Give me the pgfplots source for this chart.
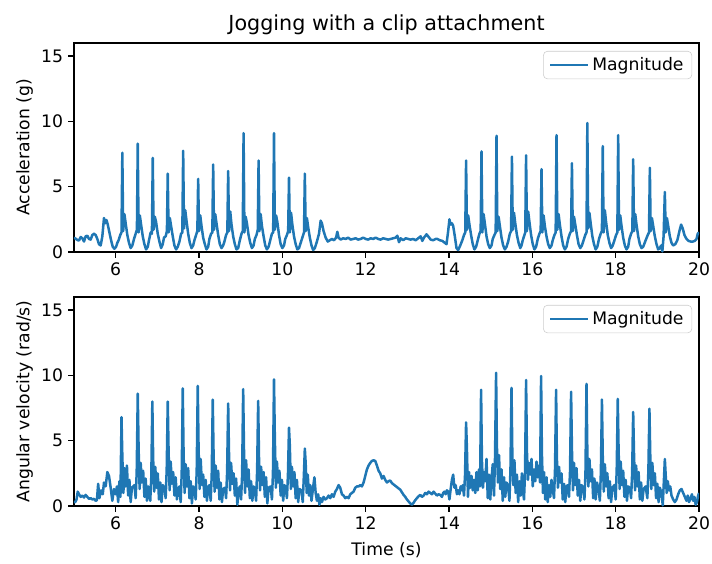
\documentclass[border=0pt]{standalone}
\usepackage{pgfplots}
\pgfplotsset{compat=1.18}
\usepackage{fontspec}
\setmainfont{DejaVu Sans}

\definecolor{mplblue}{HTML}{1F77B4}

\pgfplotsset{
  imu/.style={
    scale only axis, width=450pt, height=150.48pt,
    xmin=5, xmax=20, ymin=0, ymax=16,
    xtick={6,8,...,20}, ytick={0,5,10,15},
    tick align=outside, tick pos=left,
    major tick length=4.3pt,
    /pgf/number format/assume math mode=true,
    tick label style={font=\fontsize{12.4}{14.9}\selectfont},
    label style={font=\fontsize{12.4}{14.9}\selectfont},
    axis line style={line width=1pt},
    every tick/.style={black, line width=1pt},
    ylabel style={at={(axis description cs:-0.079,0.5)}, anchor=center},
    legend style={at={(0.989,0.962)}, anchor=north east, draw=black!20,
      rounded corners=3pt, font=\fontsize{12.4}{14.9}\selectfont,
      inner xsep=4pt, inner ysep=2.5pt,
      /tikz/every even column/.append style={column sep=7pt}},
    legend cell align=left,
    legend image code/.code={\draw[#1] (0pt,0pt) -- (27.4pt,0pt);},
    every axis title shift=0pt,
  },
  sig/.style={mplblue, line width=1.8pt, line join=round},
}

\begin{document}
\begin{tikzpicture}
\useasboundingbox (-53.28pt,-223.92pt) rectangle (459.36pt,181.44pt);

% Accelerometer magnitude
\begin{axis}[imu, at={(0,0)}, anchor=south west,
  ylabel={Acceleration (g)},
  title={Jogging with a clip attachment},
  title style={at={(axis description cs:0.5,1.062)}, anchor=base, font=\fontsize{14.9}{17.9}\selectfont}]
\addplot[sig] coordinates {
(5.00,1.10) (5.04,1.02) (5.08,0.92) (5.12,0.88) (5.16,1.15) (5.20,1.05) (5.24,0.80) (5.28,1.20)
(5.32,1.25) (5.36,1.00) (5.40,0.95) (5.44,1.30) (5.48,1.40) (5.52,1.30) (5.56,1.00) (5.60,0.60)
(5.64,0.50) (5.68,1.20) (5.72,2.60) (5.75,2.20) (5.78,2.45) (5.81,2.10) (5.85,1.50) (5.89,0.90)
(5.93,0.40) (5.97,0.25) (6.01,0.40) (6.04,0.70)
(6.07,0.9) (6.11,1.3) (6.14,1.5) (6.16,7.6) (6.18,1.6) (6.21,2.9) (6.24,2.2) (6.28,1.3) (6.32,0.7) (6.36,0.3) (6.40,0.5)
(6.44,1.0) (6.48,1.4) (6.51,1.7) (6.53,8.3) (6.55,1.5) (6.58,2.8) (6.61,2.1) (6.65,1.2) (6.69,0.6) (6.73,0.2) (6.77,0.4)
(6.80,0.9) (6.84,1.5) (6.87,1.4) (6.89,7.2) (6.91,1.7) (6.94,2.7) (6.97,2.3) (7.01,1.4) (7.05,0.8) (7.09,0.3) (7.13,0.6)
(7.16,1.1) (7.20,1.2) (7.23,1.6) (7.25,6.0) (7.27,1.5) (7.30,2.6) (7.33,2.0) (7.37,1.2) (7.41,0.5) (7.45,0.2) (7.49,0.4)
(7.53,0.8) (7.57,1.4) (7.60,1.5) (7.62,7.75) (7.64,1.8) (7.67,3.2) (7.70,2.4) (7.74,1.4) (7.78,0.7) (7.82,0.3) (7.86,0.5)
(7.89,0.9) (7.93,1.3) (7.96,1.6) (7.98,5.6) (8.00,1.6) (8.03,2.8) (8.06,2.0) (8.10,1.1) (8.14,0.6) (8.18,0.2) (8.22,0.4)
(8.25,1.0) (8.29,1.4) (8.32,1.5) (8.34,6.7) (8.36,1.7) (8.39,2.9) (8.42,2.2) (8.46,1.3) (8.50,0.6) (8.54,0.3) (8.58,0.5)
(8.61,0.8) (8.65,1.3) (8.68,1.5) (8.70,6.2) (8.72,1.6) (8.75,3.1) (8.78,2.1) (8.82,1.2) (8.86,0.6) (8.90,0.2) (8.94,0.3)
(8.98,0.9) (9.02,1.4) (9.05,1.6) (9.07,9.1) (9.09,1.5) (9.12,2.7) (9.15,2.2) (9.19,1.3) (9.23,0.7) (9.27,0.3) (9.31,0.5)
(9.34,1.0) (9.38,1.3) (9.41,1.7) (9.43,7.0) (9.45,1.6) (9.48,2.9) (9.51,2.0) (9.55,1.2) (9.59,0.5) (9.63,0.2) (9.67,0.4)
(9.71,0.9) (9.75,1.4) (9.78,1.5) (9.80,9.1) (9.82,1.7) (9.85,2.8) (9.88,2.3) (9.92,1.3) (9.96,0.6) (10.00,0.3) (10.04,0.5)
(10.07,1.0) (10.11,1.3) (10.14,1.6) (10.16,5.7) (10.18,1.5) (10.21,3.0) (10.24,2.1) (10.28,1.2) (10.32,0.6) (10.36,0.2) (10.40,0.3)
(10.45,0.8) (10.49,1.2) (10.52,1.5) (10.54,6.0) (10.56,1.6) (10.59,2.6) (10.62,1.9) (10.66,1.1) (10.70,0.5) (10.74,0.15) (10.78,0.3)
(10.83,0.8) (10.88,1.4) (10.92,2.4) (10.95,2.2) (10.99,1.6) (11.04,1.1) (11.09,0.8) (11.14,0.9) (11.19,1.0) (11.24,0.9)
(11.29,1.1) (11.32,1.55) (11.35,1.1) (11.40,0.95) (11.46,1.05) (11.52,1.0) (11.58,1.1) (11.64,0.95) (11.70,1.0) (11.76,1.05)
(11.82,0.95) (11.88,1.0) (11.94,1.1) (12.00,1.0) (12.06,0.95) (12.12,1.05) (12.18,1.0) (12.24,1.1) (12.30,1.0) (12.36,0.95)
(12.42,1.05) (12.48,1.0) (12.54,0.95) (12.60,1.0) (12.66,1.05) (12.72,1.1) (12.76,1.25) (12.80,0.75) (12.84,1.05) (12.90,0.9)
(12.96,1.05) (13.02,1.0) (13.08,0.95) (13.14,1.0) (13.20,0.9) (13.26,1.05) (13.32,1.2) (13.36,0.85) (13.40,1.1) (13.46,1.35)
(13.50,1.2) (13.56,0.95) (13.62,0.9) (13.68,1.0) (13.72,1.0) (13.78,0.9) (13.84,0.85) (13.90,0.7) (13.94,0.6) (13.98,1.6)
(14.01,2.5) (14.04,2.1) (14.07,2.2) (14.10,2.0) (14.14,1.2) (14.18,0.3) (14.22,0.15) (14.27,0.5)
(14.32,0.9) (14.36,1.3) (14.39,1.5) (14.41,7.0) (14.43,1.7) (14.46,2.8) (14.49,2.1) (14.53,1.3) (14.57,0.6) (14.61,0.2) (14.65,0.4)
(14.69,0.9) (14.73,1.4) (14.76,1.6) (14.78,7.7) (14.80,1.5) (14.83,2.9) (14.86,2.2) (14.90,1.2) (14.94,0.6) (14.98,0.3) (15.02,0.5)
(15.05,1.0) (15.09,1.3) (15.12,1.5) (15.14,8.9) (15.16,1.6) (15.19,2.7) (15.22,2.0) (15.26,1.1) (15.30,0.5) (15.34,0.2) (15.38,0.4)
(15.42,0.8) (15.46,1.4) (15.49,1.6) (15.51,7.3) (15.53,1.7) (15.56,3.0) (15.59,2.2) (15.63,1.3) (15.67,0.7) (15.71,0.3) (15.74,0.5)
(15.77,0.9) (15.81,1.3) (15.83,1.5) (15.85,7.4) (15.87,1.6) (15.90,3.1) (15.93,2.3) (15.97,1.3) (16.01,0.6) (16.05,0.2) (16.09,0.4)
(16.13,1.0) (16.17,1.4) (16.20,1.6) (16.22,6.35) (16.24,1.5) (16.27,2.8) (16.30,2.0) (16.34,1.2) (16.38,0.6) (16.42,0.3) (16.46,0.5)
(16.49,0.9) (16.53,1.3) (16.56,1.5) (16.58,8.95) (16.60,1.7) (16.63,2.9) (16.66,2.1) (16.70,1.2) (16.74,0.5) (16.78,0.2) (16.82,0.4)
(16.86,1.0) (16.90,1.4) (16.93,1.6) (16.95,6.8) (16.97,1.6) (17.00,2.7) (17.03,2.1) (17.07,1.3) (17.11,0.6) (17.15,0.3) (17.19,0.5)
(17.23,0.9) (17.27,1.3) (17.30,1.5) (17.32,9.87) (17.34,1.8) (17.37,3.0) (17.40,2.2) (17.44,1.2) (17.48,0.6) (17.52,0.2) (17.56,0.4)
(17.60,1.0) (17.64,1.4) (17.67,1.6) (17.69,8.1) (17.71,1.5) (17.74,3.2) (17.77,2.3) (17.81,1.3) (17.85,0.7) (17.89,0.3) (17.93,0.5)
(17.97,0.9) (18.01,1.3) (18.04,1.5) (18.06,8.95) (18.08,1.7) (18.11,2.8) (18.14,2.0) (18.18,1.1) (18.22,0.5) (18.26,0.2) (18.30,0.4)
(18.33,1.0) (18.37,1.4) (18.40,1.6) (18.42,7.1) (18.44,1.6) (18.47,2.9) (18.50,2.1) (18.54,1.2) (18.58,0.6) (18.62,0.3) (18.66,0.4)
(18.72,0.9) (18.77,1.3) (18.80,1.5) (18.82,6.45) (18.84,1.6) (18.87,2.6) (18.90,2.0) (18.94,1.2) (18.98,0.6) (19.02,0.2) (19.06,0.3)
(19.09,0.5) (19.12,0.05) (19.15,1.2) (19.18,4.6) (19.20,1.5) (19.23,2.6) (19.26,2.0) (19.30,1.2) (19.34,0.7) (19.38,0.5) (19.43,0.6)
(19.48,0.9) (19.53,1.6) (19.57,2.1) (19.61,1.8) (19.65,1.3) (19.70,1.0) (19.75,0.85) (19.80,0.8) (19.85,0.8) (19.90,0.85)
(19.94,1.0) (19.97,1.4) (20.00,1.5)
};
\addlegendentry{Magnitude}
\end{axis}

% Gyroscope magnitude
\begin{axis}[imu, at={(0,-182.88pt)}, anchor=south west,
  ylabel={Angular velocity (rad/s)},
  xlabel={Time (s)},
  xlabel style={at={(axis description cs:0.5,-0.21)}, anchor=center}]
\addplot[sig] coordinates {
(5.00,0.3) (5.03,0.3) (5.06,0.5) (5.09,1.1) (5.12,0.9) (5.16,0.7) (5.20,0.8) (5.24,0.65) (5.28,0.85) (5.32,0.7)
(5.36,0.55) (5.40,0.6) (5.44,0.5) (5.48,0.55) (5.52,0.4) (5.55,0.45) (5.58,1.7) (5.61,0.6) (5.65,1.2) (5.69,0.9)
(5.72,1.8) (5.76,1.5) (5.80,2.6) (5.84,2.3) (5.88,1.4) (5.92,0.4) (5.96,1.3) (6.00,0.9) (6.03,1.5) (6.06,0.3)
(6.09,1.9) (6.115,0.7) (6.14,6.8) (6.16,3.8) (6.185,1.0) (6.21,2.9) (6.24,1.5) (6.27,3.1) (6.30,0.8) (6.33,2.0) (6.36,0.3) (6.39,1.4)
(6.45,1.6) (6.48,0.6) (6.505,2.6) (6.53,8.6) (6.55,4.5) (6.575,1.3) (6.60,3.3) (6.63,1.8) (6.66,2.7) (6.69,0.7) (6.72,2.1) (6.75,0.4) (6.78,1.5)
(6.80,1.2) (6.83,0.4) (6.855,2.2) (6.88,8.0) (6.90,3.6) (6.925,1.1) (6.95,3.0) (6.98,1.4) (7.01,2.5) (7.04,0.5) (7.07,1.8) (7.10,0.3) (7.13,1.6)
(7.17,1.4) (7.20,0.6) (7.225,2.8) (7.25,8.0) (7.27,4.2) (7.295,1.2) (7.32,3.4) (7.35,1.7) (7.38,2.6) (7.41,0.8) (7.44,2.2) (7.47,0.5) (7.50,1.3)
(7.53,1.5) (7.56,0.3) (7.585,2.5) (7.61,9.0) (7.63,4.0) (7.655,1.0) (7.68,3.2) (7.71,1.5) (7.74,2.9) (7.77,0.6) (7.80,1.9) (7.83,0.2) (7.86,1.5)
(7.89,1.3) (7.92,0.5) (7.945,2.7) (7.97,9.2) (7.99,4.4) (8.015,1.3) (8.04,3.6) (8.07,1.6) (8.10,2.4) (8.13,0.7) (8.16,2.0) (8.19,0.4) (8.22,1.4)
(8.25,1.6) (8.28,0.4) (8.305,2.3) (8.33,8.15) (8.35,3.9) (8.375,1.1) (8.40,3.1) (8.43,1.4) (8.46,2.7) (8.49,0.5) (8.52,1.8) (8.55,0.3) (8.58,1.3)
(8.62,1.4) (8.65,0.6) (8.675,2.6) (8.70,7.85) (8.72,4.1) (8.745,1.2) (8.77,3.3) (8.80,1.7) (8.83,2.5) (8.86,0.8) (8.89,2.1) (8.92,0.1) (8.95,1.2)
(8.98,1.5) (9.01,0.5) (9.035,2.4) (9.06,8.95) (9.08,4.3) (9.105,1.0) (9.13,3.5) (9.16,1.5) (9.19,2.8) (9.22,0.6) (9.25,1.9) (9.28,0.4) (9.31,1.5)
(9.34,1.3) (9.37,0.4) (9.395,2.7) (9.42,8.05) (9.44,3.7) (9.465,1.2) (9.49,3.0) (9.52,1.6) (9.55,2.6) (9.58,0.7) (9.61,2.2) (9.64,0.2) (9.67,1.4)
(9.72,1.5) (9.75,0.5) (9.775,2.5) (9.80,9.7) (9.82,5.2) (9.845,1.4) (9.87,3.4) (9.90,1.8) (9.93,2.7) (9.96,0.8) (9.99,2.0) (10.02,0.4) (10.05,1.6)
(10.08,1.4) (10.11,0.6) (10.135,2.4) (10.16,6.0) (10.18,4.6) (10.205,1.3) (10.23,3.0) (10.26,1.5) (10.29,2.6) (10.32,0.6) (10.35,2.0) (10.38,0.3) (10.41,1.3)
(10.46,1.2) (10.49,0.3) (10.515,2.2) (10.54,4.4) (10.56,3.3) (10.585,1.0) (10.61,2.4) (10.64,0.8) (10.67,1.6) (10.70,0.4) (10.73,1.2) (10.77,2.2)
(10.80,1.0) (10.83,0.4) (10.86,0.9) (10.89,0.1) (10.92,0.6) (10.95,0.3) (10.99,0.7) (11.03,0.5) (11.07,0.6) (11.11,0.8) (11.15,0.6) (11.19,0.9)
(11.23,0.7) (11.27,1.1) (11.31,1.3) (11.35,1.6) (11.39,1.4) (11.43,0.9) (11.47,0.8) (11.51,0.6) (11.55,0.7) (11.59,0.6) (11.63,0.9) (11.67,1.0)
(11.71,1.1) (11.75,1.4) (11.79,1.5) (11.83,1.5) (11.87,1.6) (11.91,1.5) (11.95,1.8) (11.99,2.3) (12.03,2.8) (12.07,3.1) (12.11,3.3) (12.15,3.45)
(12.19,3.5) (12.23,3.45) (12.27,3.1) (12.31,2.7) (12.35,2.5) (12.39,2.1) (12.43,2.3) (12.47,2.0) (12.51,1.8) (12.55,1.9) (12.59,1.95) (12.63,1.75)
(12.67,1.65) (12.71,1.55) (12.75,1.45) (12.79,1.35) (12.83,1.25) (12.87,1.05) (12.91,0.85) (12.95,0.7) (12.99,0.5) (13.03,0.35) (13.07,0.2)
(13.11,0.1) (13.15,0.25) (13.19,0.45) (13.23,0.6) (13.27,0.75) (13.31,0.85) (13.35,0.7) (13.39,0.8) (13.43,1.0) (13.47,0.9) (13.51,1.1)
(13.55,1.0) (13.59,0.9) (13.63,1.1) (13.67,0.95) (13.71,0.8) (13.75,0.9) (13.79,0.85) (13.83,0.7) (13.86,1.0) (13.89,1.1) (13.92,0.9)
(13.95,1.2) (13.98,1.1) (14.01,0.5) (14.04,1.3) (14.07,2.0) (14.10,2.4) (14.13,1.4) (14.16,1.6) (14.19,0.9) (14.22,1.2) (14.25,0.9)
(14.28,1.5) (14.31,1.2)
(14.33,1.6) (14.36,0.8) (14.385,2.4) (14.41,6.4) (14.43,4.4) (14.455,0.7) (14.48,2.6) (14.51,1.4) (14.54,2.3) (14.57,1.2) (14.60,2.0) (14.63,1.0) (14.66,2.6)
(14.69,1.2) (14.72,2.8) (14.745,1.5) (14.77,8.9) (14.79,3.5) (14.815,1.4) (14.84,2.6) (14.87,1.9) (14.90,3.6) (14.93,0.6) (14.96,2.4) (14.99,0.5) (15.02,2.1)
(15.05,3.2) (15.08,0.8) (15.105,3.8) (15.13,10.2) (15.15,4.6) (15.175,1.8) (15.20,3.9) (15.23,1.3) (15.26,2.8) (15.29,0.4) (15.32,2.2) (15.35,0.7) (15.38,1.8)
(15.42,1.5) (15.45,0.4) (15.475,2.8) (15.50,9.05) (15.52,3.9) (15.545,1.6) (15.57,3.5) (15.60,1.0) (15.63,2.4) (15.66,0.3) (15.69,1.9) (15.72,0.8) (15.75,2.5)
(15.77,1.3) (15.80,0.5) (15.825,2.6) (15.85,9.65) (15.87,4.2) (15.895,2.0) (15.92,3.3) (15.95,2.4) (15.98,3.6) (16.01,1.5) (16.04,2.8) (16.07,1.9) (16.10,3.4)
(16.13,2.2) (16.16,3.1) (16.185,1.8) (16.21,9.95) (16.23,4.0) (16.255,1.0) (16.28,2.6) (16.31,0.5) (16.34,2.2) (16.37,0.3) (16.40,1.6) (16.43,0.7) (16.46,2.0)
(16.49,1.3) (16.52,0.6) (16.545,2.9) (16.57,8.9) (16.59,3.6) (16.615,1.4) (16.64,3.0) (16.67,1.8) (16.70,2.5) (16.73,0.5) (16.76,1.7) (16.79,0.3) (16.82,1.5)
(16.85,1.6) (16.88,0.7) (16.905,2.7) (16.93,8.75) (16.95,4.4) (16.975,1.2) (17.00,3.3) (17.03,1.6) (17.06,2.9) (17.09,0.8) (17.12,2.0) (17.15,0.4) (17.18,1.6)
(17.22,1.4) (17.25,0.5) (17.275,2.5) (17.30,9.35) (17.32,4.1) (17.345,1.5) (17.37,3.6) (17.40,1.9) (17.43,2.8) (17.46,0.6) (17.49,2.1) (17.52,0.5) (17.55,1.8)
(17.59,1.3) (17.62,0.4) (17.645,2.6) (17.67,8.15) (17.69,3.8) (17.715,1.1) (17.74,3.2) (17.77,1.5) (17.80,2.5) (17.83,0.6) (17.86,1.9) (17.89,0.3) (17.92,1.4)
(17.97,1.6) (18.00,0.5) (18.025,2.8) (18.05,8.2) (18.07,4.3) (18.095,1.3) (18.12,3.4) (18.15,1.6) (18.18,2.7) (18.21,0.7) (18.24,2.0) (18.27,0.4) (18.30,1.5)
(18.34,1.4) (18.37,0.6) (18.395,2.5) (18.42,7.2) (18.44,4.0) (18.465,1.2) (18.49,3.1) (18.52,1.5) (18.55,2.6) (18.58,0.5) (18.61,1.8) (18.64,0.4) (18.67,1.3)
(18.72,1.5) (18.76,0.6) (18.785,2.7) (18.81,7.45) (18.83,3.9) (18.855,1.3) (18.88,3.3) (18.91,1.6) (18.94,2.5) (18.97,0.6) (19.00,1.7) (19.03,0.3) (19.06,1.4)
(19.10,1.0) (19.13,0.05) (19.155,1.8) (19.18,3.6) (19.20,2.4) (19.225,1.0) (19.25,1.9) (19.28,1.2) (19.31,1.5) (19.34,0.8) (19.38,0.5) (19.42,0.3)
(19.46,0.5) (19.50,0.9) (19.54,1.2) (19.58,1.3) (19.62,1.0) (19.66,0.7) (19.70,0.4) (19.73,0.8) (19.76,0.3) (19.80,0.6) (19.83,0.9) (19.86,0.4)
(19.89,0.7) (19.92,0.1) (19.95,0.3) (19.98,0.8) (20.00,1.0)
};
\addlegendentry{Magnitude}
\end{axis}
\end{tikzpicture}
\end{document}
